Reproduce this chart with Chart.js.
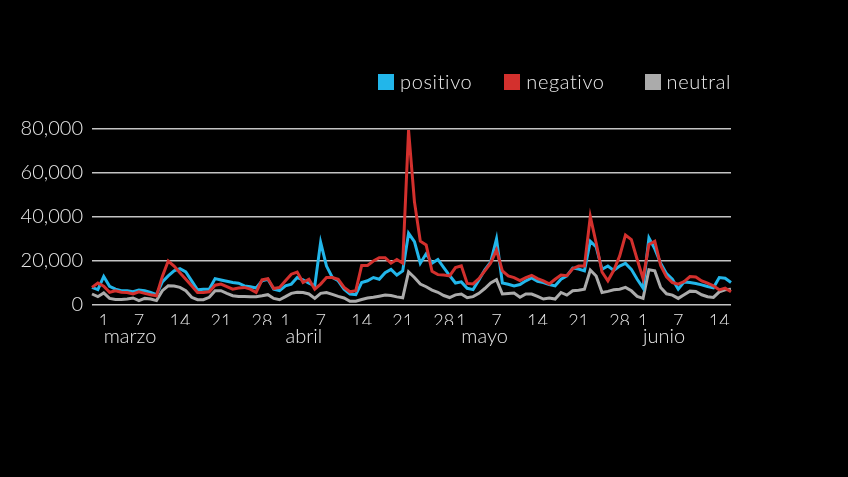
<!DOCTYPE html>
<html>
<head>
<meta charset="utf-8">
<script src="https://cdn.jsdelivr.net/npm/chart.js@4.4.1/dist/chart.umd.min.js"></script>
<style>
  html, body { margin: 0; padding: 0; background: #000; }
  #wrap { position: relative; width: 848px; height: 477px; background: #000; }
  #legend {
    position: absolute; top: 72px; right: 117px;
    display: flex; align-items: center;
    font-family: Lato, 'Open Sans', sans-serif; font-weight: 300;
    font-size: 20px; letter-spacing: 0.6px; color: #ececec;
  }
  .item { display: flex; align-items: center; line-height: 19px; }
  .swatch { width: 16px; height: 16px; margin-right: 6px; }
</style>
</head>
<body>
<div id="wrap">
  <canvas id="chart" width="848" height="477"></canvas>
  <div id="legend"></div>
</div>
<script>
const FONT = 'Lato, "Open Sans", sans-serif';
const TEXT_COLOR = '#e8e8e8';
const GRID_COLOR = '#c4c4c4';

// months covered (2020): febrero 28 .. junio 16
const monthNames = ['febrero', 'marzo', 'abril', 'mayo', 'junio'];
const monthFirstDay = [28, 1, 1, 1, 1];
const monthLastDay = [29, 31, 30, 31, 16];
const tickDays = [1, 7, 14, 21, 28];
const yTicks = [0, 20000, 40000, 60000, 80000];

const seriesNames = ['positivo', 'negativo', 'neutral'];
const seriesColors = ['#22b6ea', '#d3302d', '#ababab'];

const positivo = [
  8000, 7000, 13000, 8500, 7200, 6500, 6500, 6000, 6800, 6500,
  5700, 4700, 10500, 13200, 15500, 16500, 15000, 11000, 6900, 7200,
  7200, 12000, 11400, 10800, 10200, 9900, 8700, 8300, 7700, 11000,
  11700, 7200, 6500, 8700, 9500, 12450, 11400, 9900, 8700, 28500,
  17700, 12500, 11000, 7200, 5000, 4700, 10200, 11000, 12500, 11700,
  14700, 16200, 13600, 15500, 32600, 28800, 19000, 23300, 19000, 20700,
  17000, 13400, 10000, 10500, 7600, 7000, 11400, 16000, 19500, 30000,
  10000, 9450, 8700, 9300, 11000, 12300, 10800, 10200, 9300, 8700,
  11700, 13200, 16800, 16350, 15500, 29000, 26400, 16200, 17700, 15700,
  17700, 18900, 16200, 11700, 7700, 30500, 25500, 19000, 14250, 11700,
  7200, 10500, 10200, 9750, 9150, 8400, 7800, 12450, 12150, 10200
];

const negativo = [
  8000, 10000, 8500, 5800, 6500, 5800, 5700, 5000, 6000, 5300,
  4700, 4200, 13000, 20000, 17700, 14700, 11700, 8700, 5700, 5700,
  6000, 9000, 9500, 8400, 7200, 7700, 8000, 7200, 5700, 11400,
  12000, 7500, 8000, 11000, 14000, 15000, 10200, 11700, 7200, 9500,
  12500, 12500, 11700, 8000, 6000, 6500, 18000, 18000, 20000, 21500,
  21500, 19000, 20700, 19000, 79500, 47000, 29000, 27300, 15300, 13800,
  13600, 13200, 17000, 17800, 9800, 9600, 12000, 15500, 19000, 25000,
  15500, 13200, 12450, 11100, 12450, 13500, 12000, 11000, 9600, 11700,
  13650, 13350, 16500, 17700, 17700, 40200, 28200, 15000, 11000, 15750,
  22200, 31800, 29700, 20700, 12000, 27500, 29000, 18000, 12750, 10200,
  9450, 10650, 12900, 12750, 10950, 9900, 8700, 6900, 7650, 6000
];

const neutral = [
  5000, 3800, 5500, 3000, 2500, 2500, 2700, 3200, 2000, 3000,
  2700, 2000, 6500, 8700, 8600, 8000, 6500, 3500, 2400, 2400,
  3500, 6500, 6500, 5300, 4200, 3900, 3900, 3800, 3800, 4200,
  4700, 3000, 2400, 3800, 5300, 5800, 5700, 5000, 3000, 5300,
  5700, 4800, 3900, 3200, 1700, 1700, 2500, 3200, 3500, 4000,
  4500, 4300, 3700, 3300, 15000, 12500, 9500, 8300, 6800, 5800,
  4300, 3400, 4600, 5000, 3300, 3800, 5300, 7500, 10000, 11500,
  5000, 5200, 5400, 3500, 5000, 5000, 3900, 2700, 3200, 2700,
  5700, 4500, 6450, 6750, 7200, 15900, 13200, 5700, 6200, 6900,
  7200, 8000, 6450, 3900, 3000, 16000, 15500, 8000, 5100, 4500,
  3000, 4650, 6300, 6150, 4650, 3750, 3450, 6000, 6900, 7200
];

// category labels "day|month"
const labels = [];
monthNames.forEach((name, m) => {
  for (let d = monthFirstDay[m]; d <= monthLastDay[m]; d++) {
    labels.push(d + '|' + m);
  }
});

const parseLabel = (lbl) => {
  const [d, m] = lbl.split('|').map(Number);
  return { day: d, month: m };
};

// html legend
const legendEl = document.getElementById('legend');
const legendGaps = [0, 32, 40];
seriesNames.forEach((name, i) => {
  const item = document.createElement('div');
  item.className = 'item';
  item.style.marginLeft = legendGaps[i] + 'px';
  item.innerHTML = '<span class="swatch" style="background:' + seriesColors[i] + '"></span><span>' + name + '</span>';
  legendEl.appendChild(item);
});

const seriesData = [positivo, negativo, neutral];
const drawOrder = [1, 0, 2];

new Chart(document.getElementById('chart'), {
  type: 'line',
  data: {
    labels,
    datasets: seriesNames.map((name, i) => ({
      label: name,
      data: seriesData[i],
      borderColor: seriesColors[i],
      backgroundColor: seriesColors[i],
      borderWidth: 3,
      pointRadius: 0,
      tension: 0,
      fill: false,
      order: drawOrder[i],
    })),
  },
  options: {
    responsive: false,
    animation: false,
    layout: { padding: { top: 129, right: 117, bottom: 130, left: 0 } },
    plugins: { legend: { display: false }, tooltip: { enabled: false } },
    scales: {
      x: {
        grid: { display: false, drawTicks: false },
        border: { display: false },
        afterFit(scale) { scale.height = 20; },
        ticks: {
          autoSkip: false,
          maxRotation: 0,
          minRotation: 0,
          padding: 5,
          color: TEXT_COLOR,
          font: { family: FONT, size: 18, weight: '300' },
          callback(value) {
            const { day, month } = parseLabel(this.getLabelForValue(value));
            return month > 0 && tickDays.includes(day) ? String(day) : '';
          },
        },
      },
      xMonth: {
        type: 'category',
        position: 'bottom',
        grid: { display: false, drawTicks: false },
        border: { display: false },
        afterFit(scale) { scale.height = 22; },
        ticks: {
          autoSkip: false,
          maxRotation: 0,
          minRotation: 0,
          align: 'start',
          padding: 0,
          color: TEXT_COLOR,
          font: { family: FONT, size: 20, weight: '300' },
          callback(value) {
            const { day, month } = parseLabel(this.getLabelForValue(value));
            return month > 0 && day === 1 ? monthNames[month] : '';
          },
        },
      },
      y: {
        min: 0,
        max: 80000,
        afterFit(scale) { scale.width = 92; },
        afterBuildTicks(scale) { scale.ticks = yTicks.map((v) => ({ value: v })); },
        grid: { color: GRID_COLOR, lineWidth: 1.5, drawTicks: false },
        border: { display: false },
        ticks: {
          padding: 9,
          color: TEXT_COLOR,
          font: { family: FONT, size: 20, weight: '300' },
          callback: (v) => Number(v).toLocaleString('en-US'),
        },
      },
    },
  },
});
</script>
</body>
</html>
